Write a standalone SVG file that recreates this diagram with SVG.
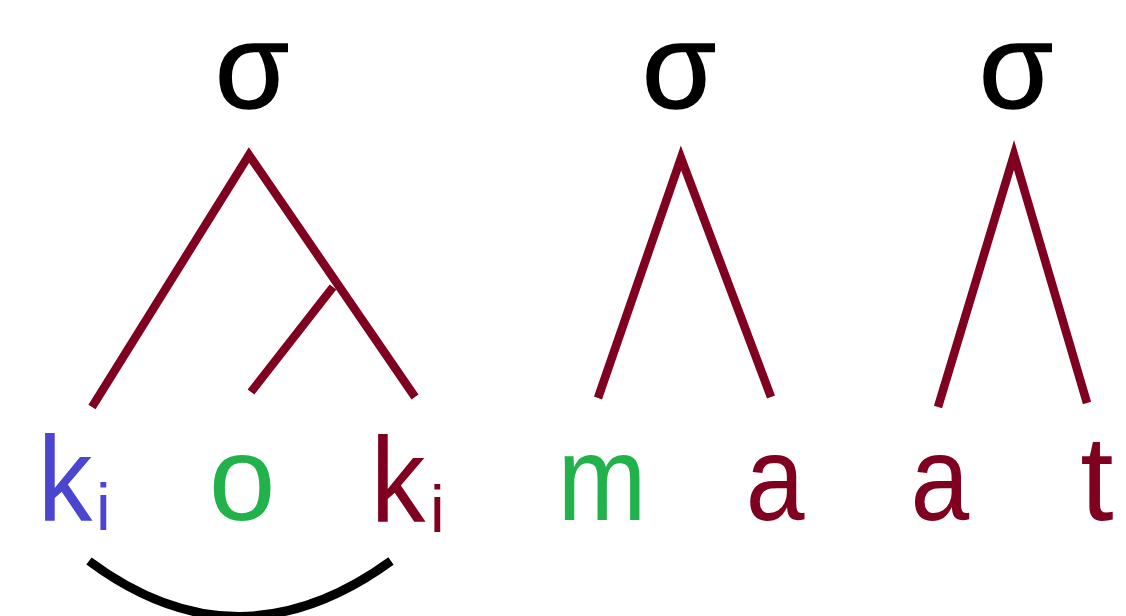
<svg xmlns="http://www.w3.org/2000/svg" width="1126" height="616" viewBox="0 0 1126 616">
<style>
.big{font-family:"Liberation Sans",Arial,sans-serif;font-size:120px}
.sub{font-family:"Liberation Sans",Arial,sans-serif;font-size:66px}
.sig{fill:#000;stroke:#000;stroke-width:1.5}
.red{fill:#800020}
.blue{fill:#4a46d0}
.green{fill:#22b24c}
.edge{stroke:#800020;stroke-width:8.5;fill:none;stroke-linecap:butt}
</style>
<rect width="1126" height="616" fill="#fff"/>
<g id="connectors">
<path class="edge" d="M92 407 L249 155 L415 397"/>
<path class="edge" d="M333 287 L251 392"/>
<path class="edge" d="M598 398 L681 158 L771 397"/>
<path class="edge" d="M938 407 L1014 155 L1087 403"/>
<path d="M89 561 Q238 672 391 561" stroke="#000" stroke-width="9" fill="none"/>
</g>
<g id="sigma1"><text class="big sig" x="252" y="108" text-anchor="middle">σ</text></g>
<g id="sigma2"><text class="big sig" x="679" y="108" text-anchor="middle">σ</text></g>
<g id="sigma3"><text class="big sig" x="1016" y="108" text-anchor="middle">σ</text></g>
<g id="k1"><text class="big blue" x="65" y="520" text-anchor="middle" transform="translate(65 0) scale(0.91 1) translate(-65 0)">k</text><text class="sub blue" x="96" y="530">i</text></g>
<g id="o"><text class="big green" x="242" y="520" text-anchor="middle">o</text></g>
<g id="k2"><text class="big red" x="398" y="521" text-anchor="middle" transform="translate(398 0) scale(0.91 1) translate(-398 0)">k</text><text class="sub red" x="430" y="532">i</text></g>
<g id="m"><text class="big green" x="602" y="520" text-anchor="middle" transform="translate(602 0) scale(0.89 1) translate(-602 0)">m</text></g>
<g id="a1"><text class="big red" x="775" y="520" text-anchor="middle" transform="translate(775 0) scale(0.88 1) translate(-775 0)">a</text></g>
<g id="a2"><text class="big red" x="940" y="520" text-anchor="middle" transform="translate(940 0) scale(0.88 1) translate(-940 0)">a</text></g>
<g id="t"><text class="big red" x="1097" y="520" text-anchor="middle">t</text></g>
</svg>
